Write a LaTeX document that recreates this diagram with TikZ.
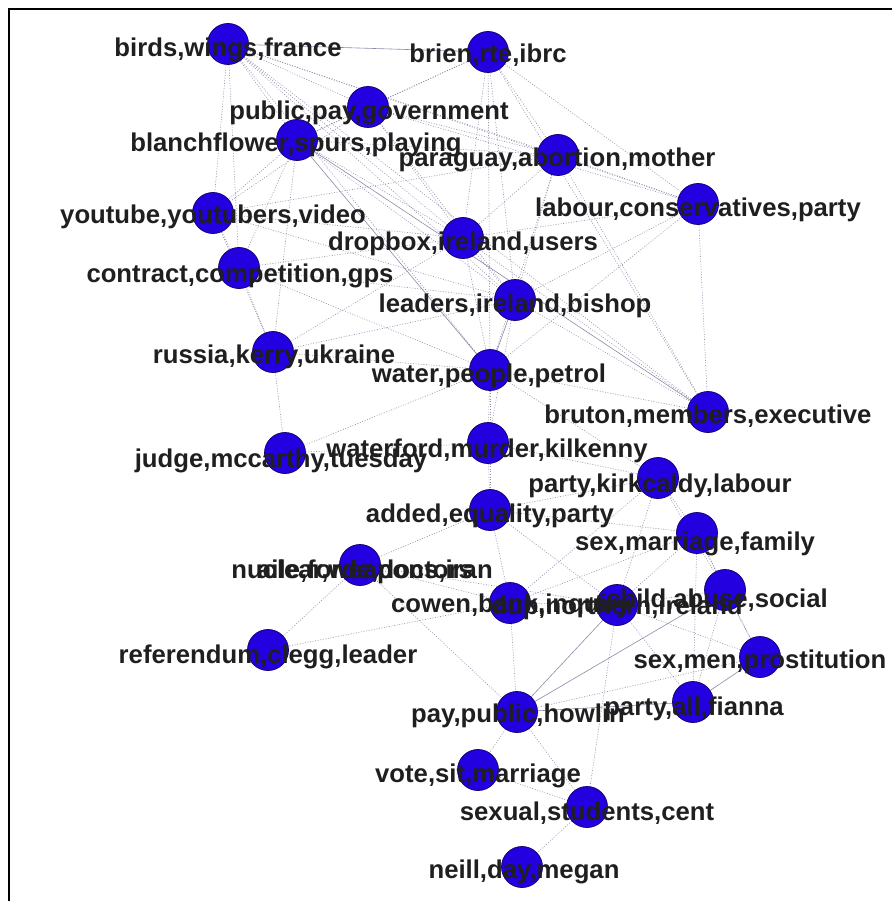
\documentclass[tikz,border=0pt]{standalone}
\usepackage{fontspec}
\setmainfont{Liberation Sans}
\definecolor{vblue}{RGB}{34,0,224}
\definecolor{vedge}{RGB}{25,0,120}
\definecolor{egray}{RGB}{110,110,145}
\pgfdeclarelayer{bg}
\pgfsetlayers{bg,main}
\begin{document}
\begin{tikzpicture}[x=1pt,y=-1pt,
  vtx/.style={circle,minimum size=41pt,inner sep=0pt,fill=vblue,draw=vedge,line width=0.8pt},
  lbl/.style={anchor=base,text=black!88,font=\fontsize{25.7}{26}\selectfont\bfseries,inner sep=0pt},
  ed/.style={draw=egray,line width=0.6pt,dash pattern=on 1pt off 1.6pt,opacity=0.75},
  eds/.style={draw=egray,line width=0.6pt,opacity=0.8}]
\useasboundingbox (0,0) rectangle (892,901);
\draw[line width=2pt] (9,901) -- (9,9) -- (892,9);
% vertices
\node[vtx] (bwf) at (228,44) {};
\node[vtx] (brb) at (488,52) {};
\node[vtx] (ppg) at (368,107) {};
\node[vtx] (bsp) at (297,140) {};
\node[vtx] (pam) at (558,155) {};
\node[vtx] (lcp) at (698,204) {};
\node[vtx] (yyv) at (213,213) {};
\node[vtx] (diu) at (463,238) {};
\node[vtx] (ccg) at (239,268) {};
\node[vtx] (lib) at (515,300) {};
\node[vtx] (rku) at (273,352) {};
\node[vtx] (wpp) at (490,370) {};
\node[vtx] (bme) at (708,412) {};
\node[vtx] (jmt) at (285,453) {};
\node[vtx] (wmk) at (488,443) {};
\node[vtx] (pkl) at (658,478) {};
\node[vtx] (aep) at (490,510) {};
\node[vtx] (smf) at (697,533) {};
\node[vtx] (nwi) at (360,565) {};
\node[vtx] (cbi) at (510,603) {};
\node[vtx] (dni) at (617,605) {};
\node[vtx] (cas) at (725,590) {};
\node[vtx] (rcl) at (268,650) {};
\node[vtx] (smp) at (760,657) {};
\node[vtx] (paf) at (693,702) {};
\node[vtx] (pph) at (517,712) {};
\node[vtx] (vsm) at (478,770) {};
\node[vtx] (ssc) at (587,807) {};
\node[vtx] (ndm) at (522,867) {};
% edges
\begin{pgfonlayer}{bg}
\foreach \a/\b in {bwf/ppg,bwf/pam,bwf/bsp,bwf/diu,bwf/lib,bwf/wpp,bwf/yyv,bwf/ccg,bwf/lcp,bwf/bme,
  brb/ppg,brb/pam,brb/diu,brb/lib,brb/wpp,brb/bsp,brb/lcp,brb/bme,
  ppg/pam,ppg/lcp,ppg/diu,ppg/bsp,ppg/lib,ppg/yyv,
  bsp/pam,bsp/diu,bsp/lib,bsp/ccg,bsp/yyv,bsp/rku,
  pam/lcp,pam/diu,pam/lib,pam/wpp,pam/bme,pam/yyv,
  lcp/diu,lcp/lib,lcp/wpp,lcp/bme,
  yyv/ccg,yyv/diu,yyv/rku,yyv/lib,
  ccg/rku,ccg/lib,ccg/wpp,ccg/diu,
  diu/lib,diu/wpp,diu/bme,diu/rku,
  lib/bme,lib/rku,lib/wmk,
  rku/wpp,rku/jmt,
  wpp/wmk,wpp/bme,wpp/aep,wpp/pkl,jmt/wpp,jmt/wmk,
  wmk/aep,wmk/pkl,
  pkl/smf,pkl/aep,pkl/cas,pkl/dni,pkl/cbi,
  aep/nwi,aep/cbi,aep/dni,aep/smf,
  smf/cas,smf/dni,smf/smp,smf/cbi,smf/paf,
  nwi/cbi,nwi/rcl,nwi/pph,nwi/dni,
  cbi/dni,cbi/pph,cbi/rcl,
  dni/cas,dni/smp,dni/paf,
  cas/smp,cas/paf,smp/pph,
  pph/vsm,pph/ssc,vsm/ssc,ssc/ndm,ssc/dni}
  {\draw[ed] (\a.center) -- (\b.center);}
\foreach \a/\b in {bwf/brb,paf/pph,pph/cas,pph/dni,smp/paf,bsp/wpp,bsp/bme,lib/wpp}
  {\draw[eds] (\a.center) -- (\b.center);}
\end{pgfonlayer}
% labels
\node[lbl] (bwfL) at (228,57) {birds,wings,france};
\node[lbl] (brbL) at (488,63) {brien,rte,ibrc};
\node[lbl] (ppgL) at (369,120) {public,pay,government};
\node[lbl] (bspL) at (296,152) {blanchflower,spurs,playing};
\node[lbl] (pamL) at (557,167) {paraguay,abortion,mother};
\node[lbl] (lcpL) at (698,217) {labour,conservatives,party};
\node[lbl] (yyvL) at (213,224) {youtube,youtubers,video};
\node[lbl] (diuL) at (463,250) {dropbox,ireland,users};
\node[lbl] (ccgL) at (240,282) {contract,competition,gps};
\node[lbl] (libL) at (515,312) {leaders,ireland,bishop};
\node[lbl] (rkuL) at (274,363) {russia,kerry,ukraine};
\node[lbl] (wppL) at (489,382) {water,people,petrol};
\node[lbl] (bmeL) at (708,423) {bruton,members,executive};
\node[lbl] (jmtL) at (281,467) {judge,mccarthy,tuesday};
\node[lbl] (wmkL) at (487,457) {waterford,murder,kilkenny};
\node[lbl] (pklL) at (660,492) {party,kirkcaldy,labour};
\node[lbl] (aepL) at (490,522) {added,equality,party};
\node[lbl] (smfL) at (695,550) {sex,marriage,family};
\node[lbl] (nwiL) at (362,578) {nuclear,weapons,iran};
\node[lbl] (afdL) at (365,578) {aile,forde,doctors};
\node[lbl] (cbiL) at (511,612) {cowen,bank,inquiry};
\node[lbl] (dniL) at (617,614) {dup,northern,ireland};
\node[lbl] (casL) at (717,607) {child,abuse,social};
\node[lbl] (rclL) at (268,663) {referendum,clegg,leader};
\node[lbl] (smpL) at (760,668) {sex,men,prostitution};
\node[lbl] (pafL) at (694,715) {party,all,fianna};
\node[lbl] (pphL) at (518,722) {pay,public,howlin};
\node[lbl] (vsmL) at (478,782) {vote,sit,marriage};
\node[lbl] (sscL) at (587,820) {sexual,students,cent};
\node[lbl] (ndmL) at (524,878) {neill,day,megan};
\end{tikzpicture}
\end{document}
